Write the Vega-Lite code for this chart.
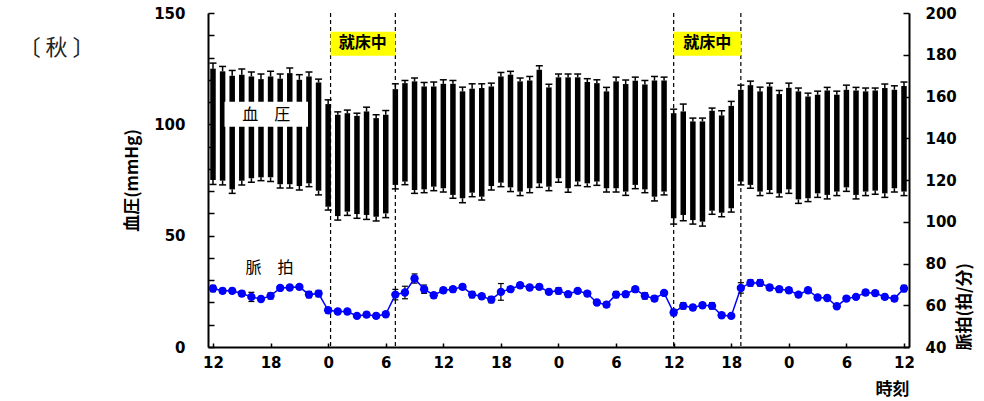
{
  "$schema": "https://vega.github.io/schema/vega-lite/v6.json",
  "width": 701,
  "height": 334,
  "autosize": "none",
  "padding": {"left": 208, "top": 13, "right": 75, "bottom": 54},
  "background": "white",
  "config": {
    "view": {"stroke": null},
    "axis": {
      "domainColor": "black",
      "domainWidth": 2,
      "ticks": false,
      "grid": true,
      "gridColor": "black",
      "gridOpacity": 1,
      "gridWidth": 1.5,
      "labelFont": "DejaVu Sans",
      "labelFontWeight": "bold",
      "labelFontSize": 15,
      "labelColor": "black",
      "labelFlush": false,
      "labelOverlap": false,
      "titleFont": "Noto Sans CJK JP",
      "titleColor": "black",
      "titleFontSize": 17,
      "titleFontWeight": "bold"
    }
  },
  "datasets": {
    "d": [
      {"h":12,"sys":125.0,"sysHi":127.5,"dia":75.0,"diaLo":73.0,"pr":68.0,"prLo":66.5,"prHi":69.5},
      {"h":13,"sys":123.8,"sysHi":126.0,"dia":74.7,"diaLo":72.8,"pr":66.9,"prLo":65.7,"prHi":68.1},
      {"h":14,"sys":121.8,"sysHi":124.2,"dia":70.8,"diaLo":69.0,"pr":66.9,"prLo":65.7,"prHi":68.1},
      {"h":15,"sys":122.3,"sysHi":124.8,"dia":74.7,"diaLo":72.8,"pr":65.6,"prLo":64.4,"prHi":66.8},
      {"h":16,"sys":121.5,"sysHi":123.5,"dia":75.8,"diaLo":74.0,"pr":64.0,"prLo":61.8,"prHi":66.2},
      {"h":17,"sys":120.3,"sysHi":122.6,"dia":76.2,"diaLo":74.7,"pr":63.0,"prLo":61.8,"prHi":64.2},
      {"h":18,"sys":121.5,"sysHi":123.8,"dia":76.2,"diaLo":74.3,"pr":64.5,"prLo":63.0,"prHi":66.0},
      {"h":19,"sys":120.5,"sysHi":122.6,"dia":73.1,"diaLo":71.4,"pr":68.3,"prLo":67.3,"prHi":69.3},
      {"h":20,"sys":123.0,"sysHi":125.3,"dia":73.1,"diaLo":71.4,"pr":68.5,"prLo":67.5,"prHi":69.5},
      {"h":21,"sys":120.0,"sysHi":122.3,"dia":72.3,"diaLo":70.5,"pr":68.8,"prLo":67.8,"prHi":69.8},
      {"h":22,"sys":121.5,"sysHi":123.5,"dia":73.5,"diaLo":72.0,"pr":65.1,"prLo":63.6,"prHi":66.6},
      {"h":23,"sys":118.8,"sysHi":120.3,"dia":70.2,"diaLo":68.3,"pr":65.6,"prLo":64.1,"prHi":67.1},
      {"h":24,"sys":109.1,"sysHi":111.0,"dia":63.0,"diaLo":61.5,"pr":57.6,"prLo":56.4,"prHi":58.8},
      {"h":25,"sys":104.3,"sysHi":105.6,"dia":58.8,"diaLo":57.0,"pr":57.0,"prLo":56.0,"prHi":58.0},
      {"h":26,"sys":105.0,"sysHi":106.4,"dia":60.8,"diaLo":59.1,"pr":57.0,"prLo":56.0,"prHi":58.0},
      {"h":27,"sys":103.8,"sysHi":105.0,"dia":59.7,"diaLo":57.8,"pr":54.9,"prLo":53.9,"prHi":55.9},
      {"h":28,"sys":105.8,"sysHi":107.7,"dia":59.3,"diaLo":57.3,"pr":55.5,"prLo":54.3,"prHi":56.7},
      {"h":29,"sys":102.8,"sysHi":104.3,"dia":58.5,"diaLo":56.6,"pr":54.9,"prLo":53.7,"prHi":56.1},
      {"h":30,"sys":104.3,"sysHi":106.2,"dia":60.0,"diaLo":58.1,"pr":55.7,"prLo":54.7,"prHi":56.7},
      {"h":31,"sys":115.8,"sysHi":118.2,"dia":72.8,"diaLo":71.0,"pr":65.1,"prLo":62.6,"prHi":67.6},
      {"h":32,"sys":118.5,"sysHi":119.7,"dia":74.3,"diaLo":72.9,"pr":66.1,"prLo":63.1,"prHi":69.1},
      {"h":33,"sys":119.3,"sysHi":120.8,"dia":70.5,"diaLo":69.0,"pr":72.8,"prLo":70.6,"prHi":75.0},
      {"h":34,"sys":117.0,"sysHi":118.8,"dia":70.8,"diaLo":69.3,"pr":67.7,"prLo":65.7,"prHi":69.7},
      {"h":35,"sys":117.0,"sysHi":119.0,"dia":72.0,"diaLo":70.2,"pr":64.8,"prLo":63.6,"prHi":66.0},
      {"h":36,"sys":118.2,"sysHi":120.0,"dia":71.3,"diaLo":69.6,"pr":67.2,"prLo":66.0,"prHi":68.4},
      {"h":37,"sys":118.2,"sysHi":119.7,"dia":68.3,"diaLo":66.8,"pr":67.7,"prLo":66.5,"prHi":68.9},
      {"h":38,"sys":114.8,"sysHi":116.7,"dia":66.8,"diaLo":64.8,"pr":68.8,"prLo":67.6,"prHi":70.0},
      {"h":39,"sys":116.0,"sysHi":118.2,"dia":69.3,"diaLo":67.5,"pr":65.1,"prLo":63.6,"prHi":66.6},
      {"h":40,"sys":116.3,"sysHi":118.2,"dia":67.5,"diaLo":66.0,"pr":64.3,"prLo":63.3,"prHi":65.3},
      {"h":41,"sys":117.0,"sysHi":118.5,"dia":72.3,"diaLo":70.5,"pr":62.7,"prLo":61.2,"prHi":64.2},
      {"h":42,"sys":121.5,"sysHi":123.3,"dia":73.8,"diaLo":72.0,"pr":66.4,"prLo":62.4,"prHi":70.4},
      {"h":43,"sys":122.3,"sysHi":123.8,"dia":71.7,"diaLo":69.8,"pr":67.7,"prLo":66.7,"prHi":68.7},
      {"h":44,"sys":119.3,"sysHi":120.8,"dia":69.8,"diaLo":68.0,"pr":69.6,"prLo":68.6,"prHi":70.6},
      {"h":45,"sys":119.7,"sysHi":121.5,"dia":71.3,"diaLo":69.3,"pr":68.5,"prLo":67.5,"prHi":69.5},
      {"h":46,"sys":124.5,"sysHi":126.3,"dia":73.5,"diaLo":71.7,"pr":68.8,"prLo":67.6,"prHi":70.0},
      {"h":47,"sys":116.6,"sysHi":118.0,"dia":72.0,"diaLo":70.2,"pr":66.4,"prLo":65.2,"prHi":67.6},
      {"h":48,"sys":121.1,"sysHi":122.6,"dia":75.8,"diaLo":74.0,"pr":66.9,"prLo":65.4,"prHi":68.4},
      {"h":49,"sys":121.1,"sysHi":122.6,"dia":71.3,"diaLo":69.5,"pr":65.3,"prLo":64.3,"prHi":66.3},
      {"h":50,"sys":121.1,"sysHi":122.6,"dia":74.3,"diaLo":72.5,"pr":66.9,"prLo":65.9,"prHi":67.9},
      {"h":51,"sys":119.0,"sysHi":120.5,"dia":73.5,"diaLo":72.0,"pr":65.6,"prLo":64.6,"prHi":66.6},
      {"h":52,"sys":118.5,"sysHi":120.0,"dia":74.3,"diaLo":72.6,"pr":61.3,"prLo":60.3,"prHi":62.3},
      {"h":53,"sys":114.8,"sysHi":116.6,"dia":71.3,"diaLo":69.6,"pr":60.3,"prLo":59.1,"prHi":61.5},
      {"h":54,"sys":119.3,"sysHi":121.2,"dia":71.3,"diaLo":69.6,"pr":65.1,"prLo":63.6,"prHi":66.6},
      {"h":55,"sys":118.1,"sysHi":119.9,"dia":69.8,"diaLo":68.1,"pr":65.3,"prLo":64.3,"prHi":66.3},
      {"h":56,"sys":119.6,"sysHi":121.2,"dia":72.8,"diaLo":71.1,"pr":67.7,"prLo":66.7,"prHi":68.7},
      {"h":57,"sys":117.9,"sysHi":119.7,"dia":70.8,"diaLo":69.3,"pr":64.5,"prLo":63.0,"prHi":66.0},
      {"h":58,"sys":119.7,"sysHi":121.5,"dia":67.5,"diaLo":65.6,"pr":63.2,"prLo":62.0,"prHi":64.4},
      {"h":59,"sys":119.7,"sysHi":121.2,"dia":69.8,"diaLo":68.3,"pr":65.9,"prLo":64.9,"prHi":66.9},
      {"h":60,"sys":105.0,"sysHi":106.8,"dia":57.8,"diaLo":55.2,"pr":56.5,"prLo":55.0,"prHi":58.0},
      {"h":61,"sys":105.8,"sysHi":109.1,"dia":59.3,"diaLo":56.7,"pr":59.7,"prLo":58.2,"prHi":61.2},
      {"h":62,"sys":101.3,"sysHi":102.8,"dia":57.0,"diaLo":55.2,"pr":58.9,"prLo":57.7,"prHi":60.1},
      {"h":63,"sys":101.3,"sysHi":102.8,"dia":56.3,"diaLo":54.3,"pr":60.0,"prLo":59.0,"prHi":61.0},
      {"h":64,"sys":106.1,"sysHi":107.3,"dia":61.2,"diaLo":59.6,"pr":59.7,"prLo":58.2,"prHi":61.2},
      {"h":65,"sys":104.0,"sysHi":106.1,"dia":60.3,"diaLo":58.5,"pr":55.2,"prLo":54.2,"prHi":56.2},
      {"h":66,"sys":108.3,"sysHi":110.3,"dia":62.3,"diaLo":60.6,"pr":54.9,"prLo":53.9,"prHi":55.9},
      {"h":67,"sys":115.5,"sysHi":117.6,"dia":74.3,"diaLo":72.8,"pr":68.3,"prLo":65.8,"prHi":70.8},
      {"h":68,"sys":117.6,"sysHi":119.4,"dia":72.8,"diaLo":71.3,"pr":70.7,"prLo":69.2,"prHi":72.2},
      {"h":69,"sys":114.8,"sysHi":116.7,"dia":69.8,"diaLo":68.0,"pr":70.7,"prLo":69.2,"prHi":72.2},
      {"h":70,"sys":117.0,"sysHi":118.5,"dia":70.5,"diaLo":69.0,"pr":68.5,"prLo":67.3,"prHi":69.7},
      {"h":71,"sys":113.6,"sysHi":115.2,"dia":69.0,"diaLo":67.4,"pr":67.7,"prLo":66.5,"prHi":68.9},
      {"h":72,"sys":116.4,"sysHi":118.5,"dia":70.8,"diaLo":69.0,"pr":67.2,"prLo":66.0,"prHi":68.4},
      {"h":73,"sys":114.8,"sysHi":116.3,"dia":66.3,"diaLo":64.5,"pr":65.1,"prLo":64.1,"prHi":66.1},
      {"h":74,"sys":112.5,"sysHi":114.0,"dia":66.8,"diaLo":65.3,"pr":67.2,"prLo":66.2,"prHi":68.2},
      {"h":75,"sys":113.3,"sysHi":114.9,"dia":69.0,"diaLo":67.2,"pr":63.7,"prLo":62.7,"prHi":64.7},
      {"h":76,"sys":115.2,"sysHi":116.6,"dia":68.3,"diaLo":66.5,"pr":63.5,"prLo":62.3,"prHi":64.7},
      {"h":77,"sys":113.3,"sysHi":114.9,"dia":69.8,"diaLo":68.0,"pr":59.5,"prLo":58.5,"prHi":60.5},
      {"h":78,"sys":115.5,"sysHi":117.6,"dia":71.7,"diaLo":69.9,"pr":63.2,"prLo":62.2,"prHi":64.2},
      {"h":79,"sys":115.2,"sysHi":116.6,"dia":68.3,"diaLo":66.5,"pr":64.0,"prLo":63.0,"prHi":65.0},
      {"h":80,"sys":114.8,"sysHi":116.3,"dia":69.8,"diaLo":68.0,"pr":66.1,"prLo":64.9,"prHi":67.3},
      {"h":81,"sys":115.2,"sysHi":116.3,"dia":70.2,"diaLo":68.6,"pr":65.8,"prLo":64.6,"prHi":67.0},
      {"h":82,"sys":116.3,"sysHi":118.1,"dia":69.0,"diaLo":67.2,"pr":64.0,"prLo":62.8,"prHi":65.2},
      {"h":83,"sys":115.5,"sysHi":117.3,"dia":71.3,"diaLo":69.6,"pr":63.2,"prLo":62.0,"prHi":64.4},
      {"h":84,"sys":117.2,"sysHi":119.0,"dia":69.8,"diaLo":68.0,"pr":68.0,"prLo":66.5,"prHi":69.5}
    ],
    "sleep": [
      {"start":24.25,"end":31,"mid":27.6,"label":"就床中"},
      {"start":60,"end":67,"mid":63.5,"label":"就床中"}
    ]
  },
  "resolve": {"scale": {"y": "independent"}},
  "layer": [
    {
      "layer": [
        {
          "data": {"name": "d"},
          "mark": {"type": "bar", "width": 5.5, "color": "black", "clip": true},
          "encoding": {
            "x": {
              "field": "h", "type": "quantitative",
              "scale": {"domain": [12, 84], "nice": false, "zero": false},
              "axis": {
                "values": [12,15,18,21,24,27,30,33,36,39,42,45,48,51,54,57,60,63,66,69,72,75,78,81,84],
                "labelExpr": "datum.value % 6 === 0 ? '' + (datum.value % 24) : ''",
                "labelOverlap": false,
                "labelFlush": false,
                "ticks": false,
                "grid": true,
                "gridDash": [0, 330, 4, 100],
                "labelPadding": 8,
                "title": "時刻",
                "titleAnchor": "end",
                "titlePadding": 11
              }
            },
            "y": {
              "field": "dia", "type": "quantitative",
              "scale": {"domain": [0, 150], "nice": false},
              "axis": {
                "values": [0, 50, 100, 150],
                "labelOverlap": false,
                "ticks": false,
                "grid": true,
                "gridDash": [6, 3000],
                "labelPadding": 23,
                "title": "血圧(mmHg)",
                "titlePadding": 12
              }
            },
            "y2": {"field": "sys"}
          }
        },
        {
          "data": {"name": "d"},
          "mark": {"type": "rule", "color": "black", "strokeWidth": 1.5, "clip": true},
          "encoding": {
            "x": {"field": "h", "type": "quantitative"},
            "y": {"field": "sys", "type": "quantitative"},
            "y2": {"field": "sysHi"}
          }
        },
        {
          "data": {"name": "d"},
          "mark": {"type": "rule", "color": "black", "strokeWidth": 1.5, "clip": true},
          "encoding": {
            "x": {"field": "h", "type": "quantitative"},
            "y": {"field": "diaLo", "type": "quantitative"},
            "y2": {"field": "dia"}
          }
        },
        {
          "data": {"name": "d"},
          "mark": {"type": "tick", "orient": "horizontal", "size": 7, "thickness": 1.5, "color": "black", "opacity": 1, "clip": true},
          "encoding": {
            "x": {"field": "h", "type": "quantitative"},
            "y": {"field": "sysHi", "type": "quantitative"}
          }
        },
        {
          "data": {"name": "d"},
          "mark": {"type": "tick", "orient": "horizontal", "size": 7, "thickness": 1.5, "color": "black", "opacity": 1, "clip": true},
          "encoding": {
            "x": {"field": "h", "type": "quantitative"},
            "y": {"field": "diaLo", "type": "quantitative"}
          }
        },
        {
          "data": {"name": "sleep"},
          "mark": {"type": "rule", "color": "black", "strokeWidth": 1.2, "strokeDash": [4, 3]},
          "encoding": {
            "x": {"field": "start", "type": "quantitative"}
          }
        },
        {
          "data": {"name": "sleep"},
          "mark": {"type": "rule", "color": "black", "strokeWidth": 1.2, "strokeDash": [4, 3]},
          "encoding": {
            "x": {"field": "end", "type": "quantitative"}
          }
        },
        {
          "data": {"name": "sleep"},
          "mark": {"type": "rect", "color": "#ffff00", "opacity": 1},
          "encoding": {
            "x": {"field": "start", "type": "quantitative"},
            "x2": {"field": "end"},
            "y": {"datum": 130.8, "type": "quantitative"},
            "y2": {"datum": 141.6}
          }
        },
        {
          "data": {"name": "sleep"},
          "mark": {"type": "text", "font": "Noto Sans CJK JP", "fontSize": 16, "fontWeight": "bold", "color": "black", "baseline": "middle"},
          "encoding": {
            "x": {"field": "mid", "type": "quantitative"},
            "y": {"datum": 136.5, "type": "quantitative"},
            "text": {"field": "label"}
          }
        },
        {
          "data": {"values": [{"a": 13.2, "b": 21.9}]},
          "mark": {"type": "rect", "color": "white", "opacity": 1},
          "encoding": {
            "x": {"field": "a", "type": "quantitative"},
            "x2": {"field": "b"},
            "y": {"datum": 98.9, "type": "quantitative"},
            "y2": {"datum": 110.1}
          }
        },
        {
          "data": {"values": [{"tx": 17.55, "ty": 104.4, "label": "血　圧"}, {"tx": 17.9, "ty": 35.4, "label": "脈　拍"}]},
          "mark": {"type": "text", "font": "Noto Sans CJK JP", "fontSize": 16, "color": "black", "baseline": "middle"},
          "encoding": {
            "x": {"field": "tx", "type": "quantitative"},
            "y": {"field": "ty", "type": "quantitative"},
            "text": {"field": "label"}
          }
        },
        {
          "data": {"values": [{"tx": -4.3, "ty": 134.4, "label": "〔 秋 〕"}]},
          "mark": {"type": "text", "font": "Noto Sans CJK JP", "fontSize": 22, "color": "#222222", "baseline": "middle"},
          "encoding": {
            "x": {"field": "tx", "type": "quantitative"},
            "y": {"field": "ty", "type": "quantitative"},
            "text": {"field": "label"}
          }
        }
      ]
    },
    {
      "layer": [
        {
          "data": {"name": "d"},
          "mark": {"type": "rule", "color": "black", "strokeWidth": 1.2},
          "encoding": {
            "x": {"field": "h", "type": "quantitative"},
            "y": {
              "field": "prLo", "type": "quantitative",
              "scale": {"domain": [40, 200], "nice": false, "zero": false},
              "axis": {
                "orient": "right",
                "values": [40,45,50,55,60,65,70,75,80,85,90,95,100,105,110,115,120,125,130,135,140,145,150,155,160,165,170,175,180,185,190,195,200],
                "labelExpr": "datum.value % 20 === 0 ? datum.label : ''",
                "labelOverlap": false,
                "ticks": false,
                "grid": true,
                "gridDash": [6, 3000],
                "labelPadding": 16,
                "title": "脈拍(拍/分)",
                "titleAngle": -90,
                "titleAnchor": "start",
                "titleY": 337,
                "titlePadding": 17
              }
            },
            "y2": {"field": "prHi"}
          }
        },
        {
          "data": {"name": "d"},
          "mark": {"type": "tick", "orient": "horizontal", "size": 6, "thickness": 1.2, "color": "black", "opacity": 1},
          "encoding": {
            "x": {"field": "h", "type": "quantitative"},
            "y": {"field": "prLo", "type": "quantitative"}
          }
        },
        {
          "data": {"name": "d"},
          "mark": {"type": "tick", "orient": "horizontal", "size": 6, "thickness": 1.2, "color": "black", "opacity": 1},
          "encoding": {
            "x": {"field": "h", "type": "quantitative"},
            "y": {"field": "prHi", "type": "quantitative"}
          }
        },
        {
          "data": {"name": "d"},
          "mark": {"type": "line", "color": "#0000ff", "strokeWidth": 1.5},
          "encoding": {
            "x": {"field": "h", "type": "quantitative"},
            "y": {"field": "pr", "type": "quantitative"}
          }
        },
        {
          "data": {"name": "d"},
          "mark": {"type": "point", "filled": true, "shape": "circle", "color": "#0000ff", "size": 70, "opacity": 1},
          "encoding": {
            "x": {"field": "h", "type": "quantitative"},
            "y": {"field": "pr", "type": "quantitative"}
          }
        }
      ]
    },
    {
      "data": {"name": "d"},
      "mark": {"type": "rule", "opacity": 0},
      "encoding": {
        "x": {"field": "h", "type": "quantitative"},
        "y": {
          "field": "dia", "type": "quantitative",
          "scale": {"domain": [0, 150], "nice": false},
          "axis": {
            "orient": "left",
            "values": [10,20,30,40,60,70,80,90,110,120,130,140],
            "labels": false,
            "domain": false,
            "ticks": false,
            "title": null,
            "grid": true,
            "gridDash": [6, 3000]
          }
        },
        "y2": {"field": "sys"}
      }
    }
  ]
}
